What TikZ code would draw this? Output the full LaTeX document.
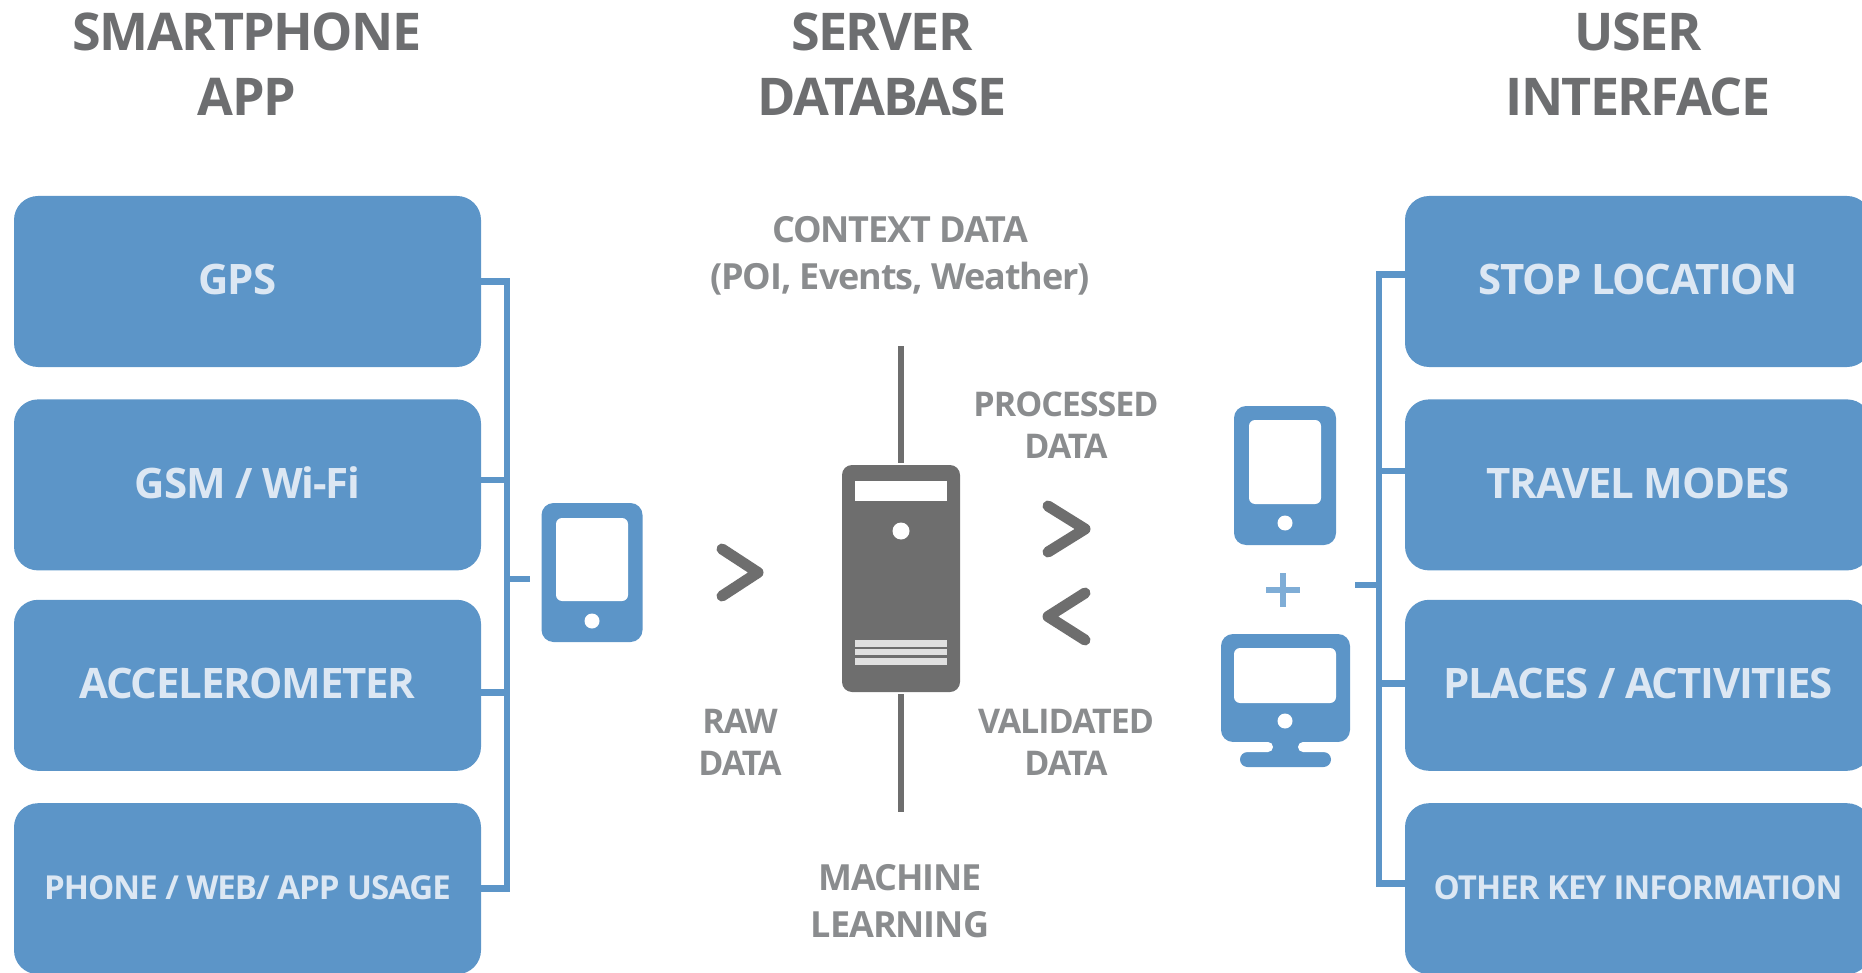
\documentclass[tikz,border=0pt]{standalone}
\usepackage{fontspec}
\setmainfont[LetterSpace=-3]{Open Sans}
\usetikzlibrary{positioning}
\definecolor{boxblue}{HTML}{5C95C8}
\definecolor{boxtext}{HTML}{DCE7F3}
\definecolor{plusblue}{HTML}{7FADD6}
\definecolor{titlegray}{HTML}{6D6E70}
\definecolor{labelgray}{HTML}{8A8C8E}
\definecolor{servergray}{HTML}{6E6E6E}
\begin{document}
\begin{tikzpicture}[
    x=1pt,
    y=-1pt,
    node distance=30pt,
    sourcebox/.style={
        rectangle,
        fill=boxblue,
        rounded corners=24pt,
        minimum width=467pt,
        minimum height=171pt,
        inner sep=0pt,
        text=boxtext,
        text height=30pt,
        text depth=3pt,
        font=\fontsize{42}{42}\selectfont\bfseries
    },
    resultbox/.style={
        sourcebox,
        minimum width=466pt
    },
    smalltext/.style={
        text height=24pt,
        text depth=2pt,
        font=\fontsize{33}{33}\selectfont\bfseries
    },
    title/.style={
        align=center,
        text=titlegray,
        font=\fontsize{52}{65}\selectfont\bfseries
    },
    caption/.style={
        align=center,
        text=labelgray,
        font=\fontsize{34}{41.5}\selectfont\bfseries
    },
    bigcaption/.style={
        caption,
        font=\fontsize{36}{47}\selectfont\bfseries
    },
    bus/.style={
        draw=boxblue,
        line width=6.5pt
    },
    stem/.style={
        draw=servergray,
        line width=6.5pt
    },
    chevron/.style={
        draw=servergray,
        line width=11pt,
        line cap=round,
        line join=round
    },
    panel/.style={
        rectangle,
        inner sep=0pt,
        rounded corners=#1
    },
    dot/.style={
        circle,
        fill=white,
        inner sep=0pt,
        minimum size=15pt
    }
]
\useasboundingbox (0,0) rectangle (1862,973);
\clip (0,0) rectangle (1862,973);

% Titles
\node[title] (apptitle) at (247,64) {SMARTPHONE\\APP};
\node[title] (servertitle) at (882,64) {SERVER\\DATABASE};
\node[title] (usertitle) at (1638,64) {USER\\INTERFACE};

% Left boxes
\node[sourcebox] (gps) at (247.5,281.5) {GPS\kern20pt};
\node[sourcebox, below=32pt of gps] (gsm) {GSM / Wi-Fi};
\node[sourcebox, below=29pt of gsm] (accel) {ACCELEROMETER};
\node[sourcebox, below=32pt of accel, smalltext] (usage) {PHONE / WEB/ APP USAGE};

% Right boxes
\node[resultbox] (stop) at (1638,281.5) {STOP LOCATION};
\node[resultbox, below=32pt of stop] (modes) {TRAVEL MODES};
\node[resultbox, below=29pt of modes] (places) {PLACES / ACTIVITIES};
\node[resultbox, below=32pt of places, smalltext] (other) {OTHER KEY INFORMATION};

% Left bracket
\coordinate (leftbus) at (507,579);
\coordinate (leftstub) at (530,579);
\draw[bus] (gps.east) -- (gps.east -| leftbus);
\draw[bus] ([yshift=5pt]gsm.east) -- ([yshift=5pt]gsm.east -| leftbus);
\draw[bus] ([yshift=-7pt]accel.east) -- ([yshift=-7pt]accel.east -| leftbus);
\draw[bus] (usage.east) -- (usage.east -| leftbus);
\draw[bus, line cap=rect] (gps.east -| leftbus) -- (usage.east -| leftbus);
\draw[bus] (leftbus) -- (leftstub);

% Right bracket
\coordinate (rightbus) at (1379,585);
\coordinate (rightstub) at (1355,585);
\draw[bus] ([yshift=7pt]stop.west) -- ([yshift=7pt]stop.west -| rightbus);
\draw[bus] ([yshift=14pt]modes.west) -- ([yshift=14pt]modes.west -| rightbus);
\draw[bus] ([yshift=2pt]places.west) -- ([yshift=2pt]places.west -| rightbus);
\draw[bus] ([yshift=5pt]other.west) -- ([yshift=5pt]other.west -| rightbus);
\draw[bus, line cap=rect] ([yshift=7pt]stop.west -| rightbus) -- ([yshift=5pt]other.west -| rightbus);
\draw[bus] (rightbus) -- (rightstub);

% Phone
\node[panel=12pt, fill=boxblue, minimum width=101pt, minimum height=139pt] (phone) at (592,572.5) {};
\node[panel=6pt, fill=white, minimum width=72pt, minimum height=83pt] (phonescreen) at (592,559.5) {};
\node[dot] (phonebutton) at (592,621) {};

% Server
\node[panel=10pt, fill=servergray, minimum width=118pt, minimum height=227pt] (server) at (901,578.5) {};
\node[panel=0pt, fill=white, minimum width=92pt, minimum height=20pt] (serverslot) at (901,491) {};
\node[dot, minimum size=17pt] (serverbutton) at (901,531) {};
\foreach \y/\h in {643.5/7, 652/6.5, 661.5/7}
    \node[panel=0pt, fill=black!12, minimum width=92pt, minimum height=\h pt] at (901,\y) {};
\coordinate (contextend) at (901,346);
\coordinate (learningend) at (901,812);
\draw[stem, shorten <=2pt] (server.north) -- (contextend);
\draw[stem, shorten <=2pt] (server.south) -- (learningend);

% Chevrons
\draw[chevron] (722,549) -- (758,572.5) -- (722,596);
\draw[chevron] (1048,506) -- (1085,529) -- (1048,552);
\draw[chevron] (1085,593) -- (1048,616.5) -- (1085,640);

% Tablet
\node[panel=12pt, fill=boxblue, minimum width=102pt, minimum height=139pt] (tablet) at (1285,475.5) {};
\node[panel=6pt, fill=white, minimum width=72pt, minimum height=84pt] (tabletscreen) at (1285,462) {};
\node[dot] (tabletbutton) at (1285,523) {};

% Plus
\node[text=plusblue, inner sep=0pt] (plus) at (1283,590) {%
    \tikz[x=1pt,y=1pt]{\fill (-17,-3) rectangle (17,3); \fill (-3,-17) rectangle (3,17);}};

% Monitor
\node[panel=12pt, fill=boxblue, minimum width=129pt, minimum height=108pt] (monitor) at (1285.5,688) {};
\node[panel=6pt, fill=white, minimum width=102pt, minimum height=55pt] (monitorscreen) at (1285,675.5) {};
\node[dot] (monitorbutton) at (1285,721) {};
\node[panel=7.5pt, fill=boxblue, minimum width=91pt, minimum height=15pt] (monitorbase) at (1285.5,759.5) {};
\node[panel=0pt, fill=boxblue, minimum width=50pt, minimum height=16pt] (monitorneck) at (1285.5,747) {};
\node[panel=5pt, fill=white, minimum width=44pt, minimum height=10pt] (neckleft) at (1251,747) {};
\node[panel=5pt, fill=white, minimum width=44pt, minimum height=10pt] (neckright) at (1320,747) {};

% Labels
\node[bigcaption] (context) at (900,255.5) {CONTEXT DATA\\(POI, Events, Weather)};
\node[caption] (processed) at (1066,425) {PROCESSED\\DATA};
\node[caption] (raw) at (740,742.5) {RAW\\DATA};
\node[caption] (validated) at (1066,742.5) {VALIDATED\\DATA};
\node[bigcaption] (learning) at (900,901) {MACHINE\\LEARNING};

\end{tikzpicture}
\end{document}
